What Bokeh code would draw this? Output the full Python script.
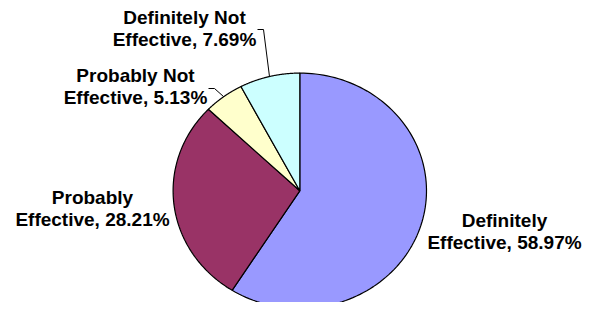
import numpy as np
from bokeh.plotting import figure
from bokeh.models import Range1d
from bokeh.core.properties import value
from bokeh.embed import file_html
from bokeh.resources import INLINE

# ---- data ----
categories = ["Definitely Effective", "Probably Effective",
              "Probably Not Effective", "Definitely Not Effective"]
percent = [58.97, 28.21, 5.13, 7.69]
colors = ["#9999FF", "#993366", "#FFFFCC", "#CCFFFF"]

# ---- layout constants (picture pixel coordinates) ----
W, H = 582, 302
CX, CY = 299.3, 190.3      # pie centre
RX, RY = 126.7, 117.7      # pie radii (slightly elliptical, as in reference)
label_pos = {              # centre-x, top-y of each label block
    "Definitely Effective": (504, 209),
    "Probably Effective": (92, 186),
    "Probably Not Effective": (135, 64),
    "Definitely Not Effective": (184, 6),
}
leader = {"Probably Not Effective": (208, 88), "Definitely Not Effective": (257, 29)}

p = figure(width=W, height=H, output_backend="svg", toolbar_location=None,
           x_range=Range1d(0, W), y_range=Range1d(H, 0),
           min_border=0, outline_line_color=None)
p.axis.visible = False
p.grid.visible = False
p.background_fill_color = "white"

# slices: clockwise from 12 o'clock
total = sum(percent)
start = np.pi / 2
xs, ys, mids = [], [], []
for v in percent:
    sweep = 2 * np.pi * v / total
    t = np.linspace(start, start - sweep, 120)
    xs.append([CX] + list(CX + RX * np.cos(t)) + [CX])
    ys.append([CY] + list(CY - RY * np.sin(t)) + [CY])
    mids.append(start - sweep / 2)
    start -= sweep

p.patches(xs=xs, ys=ys, fill_color=colors, line_color="black", line_width=1.2)

# labels
texts, lx, ly = [], [], []
for c, v in zip(categories, percent):
    first = c.replace(" Effective", "")
    texts.append(f"{first}\nEffective, {v:.2f}%")
    lx.append(label_pos[c][0])
    ly.append(label_pos[c][1])
p.text(x=lx, y=ly, text=texts, text_font=value("Liberation Sans"),
       text_font_style="bold", text_font_size="19px", text_align="center",
       text_baseline="top", text_line_height=1.05, text_color="black")

# leader lines
for c, m in zip(categories, mids):
    if c in leader:
        ex, ey = leader[c]
        px_, py_ = CX + RX * np.cos(m), CY - RY * np.sin(m)
        p.line([ex, ex + 6, px_], [ey, ey, py_], line_color="black", line_width=1)

open("out.html", "w").write(file_html(p, INLINE))
